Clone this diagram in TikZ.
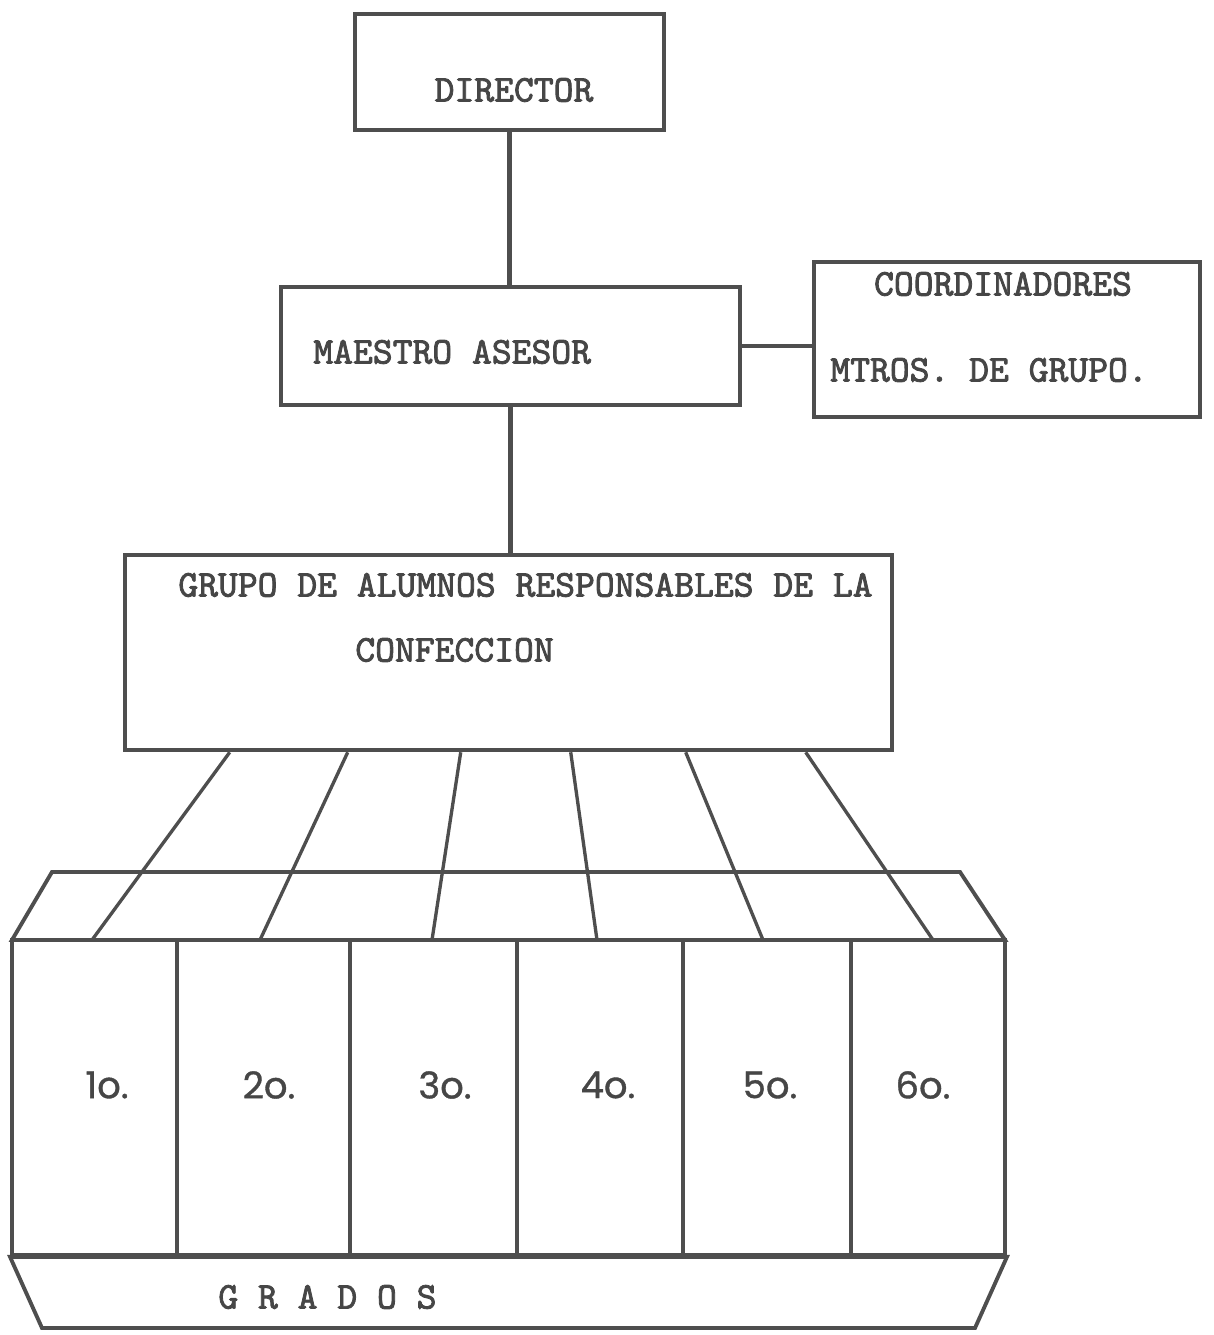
\documentclass[tikz,border=0pt]{standalone}
\usepackage{fontspec}
\newfontfamily\typefont{lmmono10-regular.otf}[FakeBold=2.2]
\newfontfamily\numfont{Poppins}[FakeBold=1]
\usepackage{tikz}
\usetikzlibrary{positioning,calc,fit}
\definecolor{ink}{RGB}{78,78,78}
\definecolor{typeink}{RGB}{70,70,70}

\begin{document}
\begin{tikzpicture}[
    box/.style={draw=ink,line width=2.6pt,minimum width=#1,inner sep=0pt},
    col/.style={draw=ink,line width=2.2pt,inner sep=0pt},
    spoke/.style={draw=ink,line width=1.9pt},
    lbl/.style={text=typeink,font=\fontsize{21.5}{24}\selectfont\typefont,inner sep=0pt},
    num/.style={text=typeink,font=\fontsize{21}{24}\selectfont\numfont,inner sep=0pt}
]
\useasboundingbox (0,0) rectangle (24.28,26.7);

% upper chart
\node[box=6.18cm,minimum height=2.32cm] (director) at (10.19,25.26) {};
\node[box=9.18cm,minimum height=2.36cm] (maestro) at (10.21,19.78) {};
\node[box=7.72cm,minimum height=3.1cm] (coord) at (20.14,19.91) {};
\node[box=15.34cm,minimum height=3.9cm] (grupo) at (10.17,13.65) {};

\node[lbl] (tdirector) at (10.28,24.9) {DIRECTOR};
\node[lbl,anchor=west] (tmaestro) at (6.26,19.66) {MAESTRO ASESOR};
\node[lbl] (tcoord1) at (20.06,21.02) {COORDINADORES};
\node[lbl,anchor=west] (tcoord2) at (16.6,19.3) {MTROS. DE GRUPO.};
\node[lbl,anchor=west] (tgrupo1) at (3.56,15.0) {GRUPO DE ALUMNOS RESPONSABLES DE LA};
\node[lbl,anchor=west] (tgrupo2) at (7.1,13.7) {CONFECCION};

\draw[spoke,line width=2.4pt] (director.south) -- (director.south |- maestro.north);
\draw[spoke,line width=2.4pt] (maestro.south) -- (maestro.south |- grupo.north);
\draw[spoke,line width=2.4pt] (maestro.east) -- (maestro.east -| coord.west);

% tray of grades
\draw[col] (1.04,9.26) -- (19.2,9.26) -- (20.1,7.9) -- (0.24,7.9) -- cycle;
\foreach \a/\b/\t/\n [count=\i] in {0.24/3.54/2.14/1, 3.54/7.0/5.38/2, 7.0/10.34/8.9/3,
    10.34/13.66/12.16/4, 13.66/17.02/15.4/5, 17.02/20.1/18.46/6} {
  \node[col,fit={(\a,7.9) (\b,1.6)}] (g\i) {};
  \node[num] (n\i) at (\t,5.0) {\n o.};
}

% links from the group to the tray
\foreach \u/\d [count=\i] in {4.64/1.84, 7.0/5.2, 9.26/8.64, 11.46/11.94, 13.76/15.26, 16.16/18.66} {
  \coordinate (up\i) at ($(grupo.south west)+({\u-2.5},0)$);
  \coordinate (dn\i) at (\d,7.9);
  \draw[spoke] (up\i) -- (dn\i);
}

\draw[col] (g1.south west) -- (g6.south east) -- (19.5,0.14) -- (0.84,0.14) -- cycle;
\node[lbl,anchor=west] (tgrados) at (4.36,0.76) {G R A D O S};
\end{tikzpicture}
\end{document}
